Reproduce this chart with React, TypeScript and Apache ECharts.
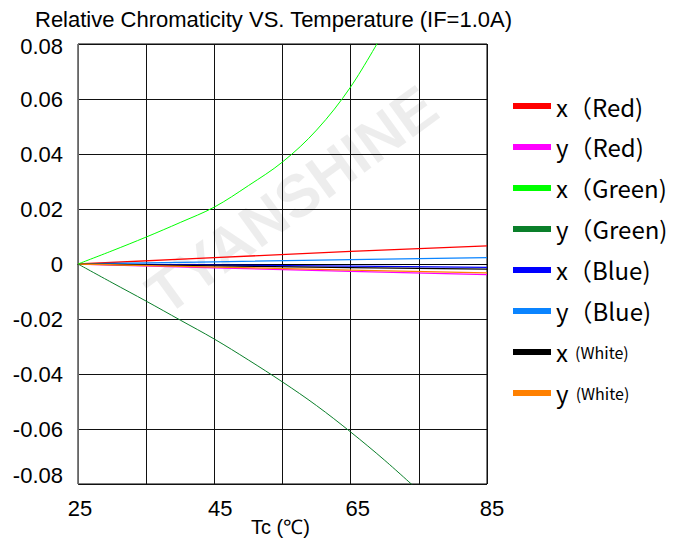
import React, { useEffect, useRef } from "react";
import * as echarts from "echarts";

// Temperature (°C) samples
const tempsFine = [25, 30, 35, 40, 45, 50, 55, 60, 65, 70, 75];
const tempsCoarse = [25, 45, 65, 85];

// Green curves
const greenX = [0, 0.0048, 0.0098, 0.0151, 0.0207, 0.0285, 0.0371, 0.0487, 0.0644, 0.085, null];
const greenY = [0, -0.0068, -0.0135, -0.0204, -0.0273, -0.0349, -0.0429, -0.0515, -0.0611, -0.0714, -0.0825];

// Near-zero curves
const redX = [0, 0.0023, 0.0046, 0.0066];
const redY = [0, -0.0014, -0.0027, -0.0039];
const blueX = [0, -0.0004, -0.0008, -0.0012];
const blueY = [0, 0.0008, 0.0016, 0.0023];
const whiteX = [0, -0.0007, -0.0013, -0.0019];
const whiteY = [0, -0.0011, -0.0022, -0.0032];

const seriesNames = ["x (Red)", "y (Red)", "x (Green)", "y (Green)", "x (Blue)", "y (Blue)", "x (White)", "y (White)"];
const legendVar = ["x", "y", "x", "y", "x", "y", "x", "y"];
const legendTag = ["（Red)", "（Red)", "（Green)", "（Green)", "（Blue)", "（Blue)", "  (White)", "  (White)"];
const seriesColors = ["#ff0000", "#ff00ff", "#00ff00", "#0a7f2a", "#0000ff", "#0a84ff", "#000000", "#ff8000"];

const xTickLabels = [25, 45, 65, 85];

export default function App() {
  const ref = useRef<HTMLDivElement>(null);
  useEffect(() => {
    if (!ref.current) return;
    const chart = echarts.init(ref.current, null, { renderer: "svg" });
    const pair = (xs: number[], ys: (number | null)[]) => xs.map((x, i) => [x, ys[i]]);
    const dataSets = [
      pair(tempsCoarse, redX),
      pair(tempsCoarse, redY),
      pair(tempsFine, greenX),
      pair(tempsFine, greenY),
      pair(tempsCoarse, blueX),
      pair(tempsCoarse, blueY),
      pair(tempsCoarse, whiteX),
      pair(tempsCoarse, whiteY),
    ];
    const series = seriesNames.map((name, i) => ({
      name,
      type: "line",
      data: dataSets[i],
      showSymbol: false,
      symbol: "none",
      smooth: i === 2 || i === 3 ? 0.35 : false,
      clip: true,
      lineStyle: { color: seriesColors[i], width: i === 2 || i === 3 ? 1 : 1.3 },
      itemStyle: { color: seriesColors[i] },
      z: i === 2 || i === 3 ? 3 : 2,
    }));
    const labelFont = { fontFamily: "Liberation Sans", fontSize: 22, color: "#000" };
    const option: any = {
      animation: false,
      backgroundColor: "#ffffff",
      title: {
        text: "Relative Chromaticity VS. Temperature (IF=1.0A)",
        left: 30,
        top: 3,
        textStyle: { fontFamily: "Liberation Sans", fontSize: 22, fontWeight: "normal", color: "#000" },
      },
      grid: {
        left: 78,
        right: 187,
        top: 44,
        bottom: 58,
        show: true,
        borderColor: "#000",
        borderWidth: 1,
        containLabel: false,
        outerBoundsMode: "none",
      },
      xAxis: {
        type: "value",
        min: 25,
        max: 85,
        interval: 10,
        name: "Tc (℃)",
        nameLocation: "middle",
        nameGap: 33,
        nameMoveOverlap: false,
        nameTextStyle: {
          fontFamily: "Liberation Sans",
          fontSize: 20,
          color: "#000",
          verticalAlign: "top",
          padding: [0, 4, 0, 0],
        },
        axisLine: { show: true, lineStyle: { color: "#000", width: 1 } },
        axisTick: { show: false },
        splitLine: { show: true, lineStyle: { color: "#111", width: 1 } },
        axisLabel: {
          ...labelFont,
          margin: 13,
          formatter: (v: number) => {
            const r = Math.round(v);
            return xTickLabels.indexOf(r) >= 0 ? `{l${r}|${r}}` : "";
          },
          rich: {
            l25: { ...labelFont, padding: [0, 0, 0, 4] },
            l45: { ...labelFont, padding: [0, 0, 0, 12] },
            l65: { ...labelFont, padding: [0, 0, 0, 14] },
            l85: { ...labelFont, padding: [0, 0, 0, 10] },
          },
        },
      },
      yAxis: {
        type: "value",
        min: -0.08,
        max: 0.08,
        interval: 0.02,
        axisLine: { show: true, lineStyle: { color: "#666", width: 1 } },
        axisTick: { show: false },
        splitLine: { show: true, lineStyle: { color: "#111", width: 1 } },
        axisLabel: {
          ...labelFont,
          margin: 15,
          formatter: (v: number) => {
            if (Math.abs(v) < 1e-9) return "0";
            if (v < -0.0799) return `{lo|${v.toFixed(2)}}`;
            if (v > 0.0799) return `{hi|${v.toFixed(2)}}`;
            return v.toFixed(2);
          },
          rich: {
            lo: { ...labelFont, padding: [0, 0, 18, 0] },
            hi: { ...labelFont, padding: [5, 0, 0, 0] },
          },
        },
      },
      legend: {
        orient: "vertical",
        left: 508,
        top: 89,
        itemWidth: 38,
        itemHeight: 6,
        itemGap: 17,
        icon: "rect",
        selectedMode: false,
        data: seriesNames,
        formatter: (name: string) => {
          const i = seriesNames.indexOf(name);
          const small = i >= 6;
          return `{v|${legendVar[i]}}{${small ? "s" : "t"}|${legendTag[i]}}`;
        },
        textStyle: {
          color: "#000",
          rich: {
            v: { fontFamily: "Noto Sans CJK SC", fontSize: 24, color: "#000", verticalAlign: "middle" },
            t: { fontFamily: "Noto Sans CJK SC", fontSize: 24, color: "#000", verticalAlign: "middle" },
            s: { fontFamily: "Noto Sans CJK SC", fontSize: 16, color: "#000", verticalAlign: "middle" },
          },
        },
      },
      graphic: [
        {
          type: "text",
          x: 292,
          y: 200,
          rotation: (36 * Math.PI) / 180,
          z: -1,
          silent: true,
          style: {
            text: "TYANSHINE",
            fill: "rgba(0,0,0,0.07)",
            font: "bold 60px 'Liberation Sans'",
            textAlign: "center",
            textVerticalAlign: "middle",
          },
        },
      ],
      series,
    };
    chart.setOption(option);
    return () => chart.dispose();
  }, []);
  return <div ref={ref} style={{ width: 674, height: 542, position: "absolute", left: 0, top: 0 }} />;
}
